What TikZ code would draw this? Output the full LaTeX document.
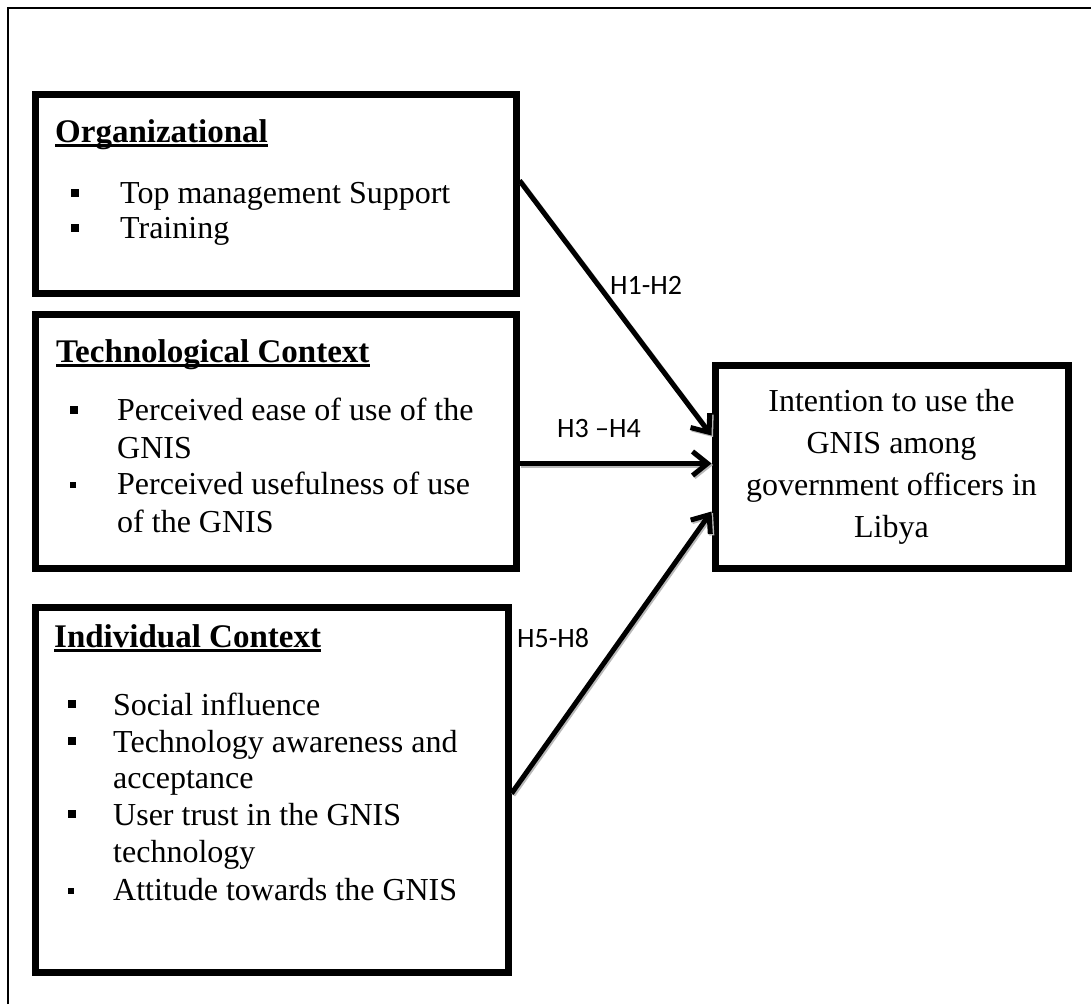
\documentclass[tikz,border=0pt]{standalone}
\usepackage{fontspec}
\setmainfont{Liberation Serif}
\newfontfamily\labfont{Carlito}
\usetikzlibrary{arrows.meta}
\tikzset{
  box/.style={draw=black, line width=7pt, rectangle, inner sep=0pt, anchor=north west},
  boxshadow/.style={draw=gray!50, line width=1.6pt},
  head/.style={anchor=base west, inner sep=0pt, font=\fontsize{33}{37}\selectfont\bfseries},
  item/.style={anchor=base west, inner sep=0pt, font=\fontsize{32}{37}\selectfont},
  lab/.style={anchor=base west, inner sep=0pt, font=\labfont\fontsize{28}{30}\selectfont},
  conn/.style={line width=5pt, -{Straight Barb[length=15pt,width=24pt]}, line join=miter},
  connshadow/.style={conn, draw=gray!55, transform canvas={shift={(1.5pt,-1.5pt)}}},
}
\newcommand{\headline}[1]{\draw[line width=2.8pt] ([yshift=-3.5pt]#1.base west) -- ([yshift=-3.5pt]#1.base east);}
\newcommand{\sqbullet}[3]{\fill (#1-#3,#2-#3) rectangle (#1+#3,#2+#3);}
\begin{document}
\begin{tikzpicture}[x=1pt,y=-1pt]
\useasboundingbox (0,0) rectangle (1091,1004);
\fill[white] (0,0) rectangle (1091,1004);
% outer frame (only top and left visible)
\draw[line width=2pt] (8,1004) -- (8,8) -- (1091,8);

% box shadows (thin grey edge right and below)
\foreach \a/\b/\c/\d in {31.5/90.5/512.5/289.5, 31.5/310.5/512.5/564.5, 31.5/603.5/504.5/968.5, 711.5/361.5/1064.5/564.5}
  \draw[boxshadow] (\a+2,\b+2) rectangle (\c+4.3,\d+4.3);

% boxes
\node[box, minimum width=481pt, minimum height=199pt] (org) at (31.5,90.5) {};
\node[box, minimum width=481pt, minimum height=254pt] (tech) at (31.5,310.5) {};
\node[box, minimum width=473pt, minimum height=365pt] (indiv) at (31.5,603.5) {};
\node[box, minimum width=353pt, minimum height=203pt, align=center,
      font=\fontsize{32}{42}\selectfont] (target) at (711.5,361.5)
  {Intention to use the\\GNIS among\\government officers in\\Libya};

% Organizational
\node[head] (h1) at (55,142) {Organizational};
\headline{h1}
\node[item] (o1) at (120,203) {Top management Support};
\node[item] (o2) at (120,238) {Training};
\sqbullet{75}{193}{4}
\sqbullet{75}{228}{4}

% Technological
\node[head] (h2) at (56,362) {Technological Context};
\headline{h2}
\node[item] (t1) at (117,420) {Perceived ease of use of the};
\node[item] (t2) at (117,458) {GNIS};
\node[item] (t3) at (117,494) {Perceived usefulness of use};
\node[item] (t4) at (117,532) {of the GNIS};
\sqbullet{74}{410}{4}
\sqbullet{73}{485}{2.8}

% Individual
\node[head] (h3) at (54,647) {Individual Context};
\headline{h3}
\node[item] (i1) at (113,715) {Social influence};
\node[item] (i2) at (113,752) {Technology awareness and};
\node[item] (i3) at (113,788) {acceptance};
\node[item] (i4) at (113,825) {User trust in the GNIS};
\node[item] (i5) at (113,862) {technology};
\node[item] (i6) at (113,900) {Attitude towards the GNIS};
\sqbullet{72}{704}{4}
\sqbullet{72}{741}{4}
\sqbullet{72}{814}{4}
\sqbullet{71}{891}{2.8}

% connectors (shadows first)
\draw[connshadow] ([yshift=13pt]org.east) -- ([yshift=31pt]target.west);
\draw[connshadow] ([yshift=-22.5pt]tech.east) -- ([yshift=3pt]target.west);
\draw[connshadow] ([yshift=-4pt]indiv.east) -- ([yshift=-45pt]target.west);
\draw[conn] ([yshift=13pt]org.east) -- ([yshift=31pt]target.west);
\draw[conn] ([yshift=-22.5pt]tech.east) -- ([yshift=3pt]target.west);
\draw[conn] ([yshift=-4pt]indiv.east) -- ([yshift=-45pt]target.west);

% labels
\node[lab] (l1) at (610,294) {H1-H2};
\node[lab] (l2) at (557,437) {H3 –H4};
\node[lab] (l3) at (517,647) {H5-H8};
\end{tikzpicture}
\end{document}
